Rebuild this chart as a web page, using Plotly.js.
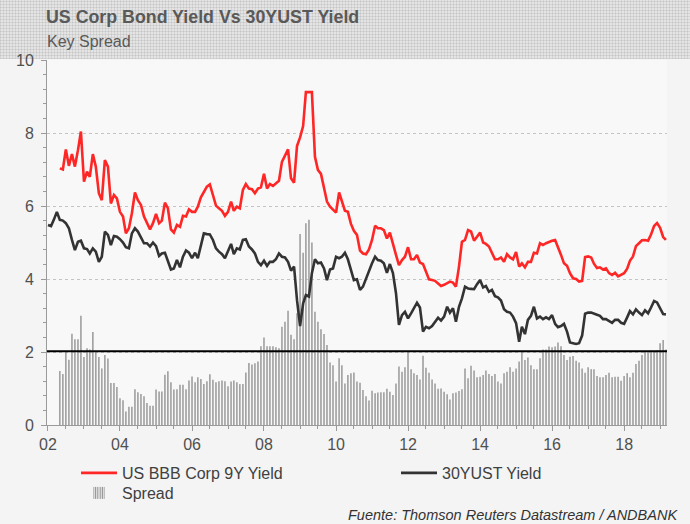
<!DOCTYPE html>
<html><head><meta charset="utf-8">
<script src="https://cdn.plot.ly/plotly-3.0.1.min.js"></script>
<style>
html,body{margin:0;padding:0;background:#f4f4f4;}
#wrap{position:relative;width:690px;height:524px;overflow:hidden;background:#f4f4f4;}
#band{position:absolute;left:0;top:0;width:690px;height:59px;background-color:#e4e4e4;
background-image:repeating-linear-gradient(0deg, rgba(0,0,0,0.07) 0 1px, transparent 1px 3px),repeating-linear-gradient(90deg, rgba(0,0,0,0.07) 0 1px, transparent 1px 3px);}
#chart{position:absolute;left:0;top:0;width:690px;height:524px;}
</style></head>
<body><div id="wrap"><div id="band"></div><div id="chart"></div></div>
<script>
// ---- data (monthly) ----
const ustStart = [2002, 1];   // 30YUST Yield starts Jan 2002
const bbbStart = [2002, 5];   // BBB yield and spread start May 2002
const ust30 = [
5.48,5.45,5.62,5.84,5.62,5.6,5.53,5.39,5.07,4.79,5.02,5.05,4.84,4.82,4.70,4.84,4.75,4.47,4.61,5.3,
5.21,4.93,5.18,5.16,5.09,5.0,4.87,4.84,5.25,5.39,5.3,5.16,4.98,4.98,4.89,5.0,
4.9,4.63,4.7,4.72,4.52,4.26,4.29,4.52,4.32,4.61,4.78,4.72,4.57,4.72,4.57,4.93,5.25,5.23,5.22,5.07,
4.84,4.75,4.68,4.57,4.79,4.96,4.68,4.84,4.81,5.07,5.09,4.89,4.81,4.7,4.47,
4.38,4.5,4.36,4.47,4.47,4.54,4.7,4.61,4.59,4.47,4.23,4.34,3.42,2.71,3.33,3.56,3.52,4.16,4.54,4.43,
4.45,4.29,3.97,4.26,4.29,4.61,4.57,4.61,4.72,4.54,4.25,3.97,3.99,3.7,3.79,
4.02,4.25,4.43,4.61,4.52,4.5,4.43,4.17,4.41,4.16,3.61,2.74,3.01,3.1,2.92,3.06,3.2,3.35,3.22,2.56,
2.69,2.65,2.71,2.83,2.94,2.86,2.97,3.24,3.08,3.2,2.83,3.24,3.47,3.79,3.74,
3.73,3.72,3.86,3.97,3.77,3.81,3.65,3.7,3.53,3.5,3.41,3.17,3.1,3.08,2.97,2.79,2.28,2.69,2.49,2.88,
2.99,3.24,2.92,2.97,2.9,2.95,2.9,3.01,2.77,2.68,2.71,2.77,2.56,2.26,2.24,
2.22,2.24,2.45,3.05,3.08,3.08,3.06,3.02,2.99,2.9,2.9,2.86,2.8,2.88,2.88,2.8,2.77,2.95,3.12,3.03,
3.17,3.08,3.01,3.14,3.06,3.22,3.4,3.36,3.2,3.04,3.03];
const bbb9y = [
7.03,7.0,7.55,7.1,7.42,7.08,7.53,8.04,6.67,6.94,6.8,7.42,7.08,6.35,6.16,7.26,7.08,6.07,6.3,6.21,
5.84,5.71,5.25,5.39,5.8,6.37,6.16,6.03,5.71,5.53,5.36,5.53,
5.78,5.53,5.6,6.09,5.94,5.36,5.27,5.48,5.43,5.73,5.71,5.91,5.84,5.84,5.98,6.24,6.37,6.53,6.59,6.26,
6.01,5.94,5.87,5.73,5.84,6.12,5.87,5.98,5.94,6.44,6.6,6.48,6.46,6.35,6.48,
6.51,6.88,6.48,6.6,6.55,6.62,6.69,7.21,7.4,7.55,6.76,6.64,7.64,7.88,8.19,9.12,9.12,9.12,7.35,6.99,
6.88,6.53,6.12,5.98,5.89,5.82,6.37,6.16,5.87,5.84,5.51,5.32,5.21,4.78,4.70,
4.68,4.81,5.07,5.46,5.39,5.39,5.34,5.11,5.27,4.93,4.66,4.38,4.52,4.61,4.87,4.54,4.54,4.66,4.45,4.41,
4.2,3.99,3.97,3.95,3.88,3.81,3.84,3.9,3.93,3.9,3.79,4.34,5.02,5.07,5.34,
5.3,5.05,5.16,5.27,5.0,4.96,4.89,4.7,4.54,4.54,4.59,4.47,4.68,4.59,4.54,4.74,4.34,4.43,4.32,4.47,
4.47,4.72,4.7,4.98,4.93,4.98,5.02,5.05,5.07,4.89,4.66,4.43,4.36,4.16,4.02,
4.0,3.93,3.95,4.6,4.62,4.59,4.42,4.3,4.32,4.26,4.29,4.16,4.11,4.17,4.07,4.12,4.16,4.28,4.5,4.62,
4.9,4.98,5.06,5.07,5.05,5.22,5.45,5.53,5.4,5.15,5.07];
const spread = [
1.48,1.40,2.03,1.79,2.5,2.35,2.35,2.99,1.86,2.1,2.07,2.55,2.0,1.86,1.55,1.92,1.82,1.15,1.15,1.04,
0.73,0.68,0.37,0.5,0.5,0.98,0.9,0.85,0.79,0.6,0.53,0.53,0.97,0.92,0.92,1.38,1.47,1.17,0.97,0.98,
1.1,1.1,0.98,1.22,1.33,1.17,1.31,1.26,1.12,1.2,1.39,1.24,1.17,1.2,1.22,1.2,1.06,1.19,1.22,1.17,
1.12,1.12,1.44,1.7,
1.66,1.69,1.74,2.16,2.4,2.16,2.16,2.16,2.13,2.1,2.69,2.83,3.13,2.47,2.35,3.06,5.23,4.72,5.53,5.62,
5.0,3.1,2.83,2.62,2.49,
2.19,1.71,1.64,1.19,1.83,1.64,1.14,1.37,1.42,1.44,1.19,1.16,0.96,0.79,0.67,0.94,0.87,0.89,0.9,0.9,
0.99,0.91,0.82,1.14,1.6,1.46,1.58,2.01,1.53,1.42,1.37,1.25,1.9,1.57,1.43,1.25,1.14,0.99,1.0,0.91,
0.84,0.7,0.87,0.89,0.93,0.98,1.55,1.28,1.62,1.49,1.31,1.32,1.37,1.49,1.4,1.34,1.4,1.19,1.14,1.42,
1.46,1.58,1.46,1.55,1.74,2.01,1.78,1.85,1.64,1.53,1.53,1.83,2.07,2.07,2.15,2.13,2.15,2.26,2.16,1.92,
1.78,1.87,1.89,1.76,1.71,1.55,1.43,1.58,1.53,1.53,1.34,1.31,1.31,1.37,1.43,1.31,1.32,1.32,1.21,1.34,
1.42,1.31,1.43,1.67,1.76,1.92,2.01,1.98,2.04,2.01,2.05,2.24,2.33,2.07];
const spreadRefLevel = 2.02;
const xTickLabelsEvery = 'M24';
const names = {bbb:'US BBB Corp 9Y Yield', ust:'30YUST Yield', spread:'Spread'};
const titleText = 'US Corp Bond Yield Vs 30YUST Yield';
const subtitleText = 'Key Spread';
const sourceText = 'Fuente: Thomson Reuters Datastream / ANDBANK';

function monthDates(start, n){
  const out=[]; let y=start[0], m=start[1];
  for(let i=0;i<n;i++){ out.push(y+'-'+String(m).padStart(2,'0')+'-01'); m++; if(m>12){m=1;y++;} }
  return out;
}
const xUst = monthDates(ustStart, ust30.length);
const xBbb = monthDates(bbbStart, bbb9y.length);
const xSpr = monthDates(bbbStart, spread.length);

const DAY = 86400000;
const traces = [
  {type:'bar', x:xSpr, y:spread, width:xSpr.map(()=>17*DAY), marker:{color:'#a3a3a3', line:{width:0}}, showlegend:false, hoverinfo:'skip'},
  {type:'scatter', mode:'lines', x:xBbb, y:bbb9y, name:names.bbb, line:{color:'#ff2626', width:2.6}, legend:'legend'},
  // legend-only entry for the spread bars (striped icon); carries no visible mark
  {type:'bar', x:[xSpr[0]], y:[null], name:names.spread, legend:'legend3', showlegend:true, hoverinfo:'skip',
   marker:{color:'#f4f4f4', line:{width:0}, pattern:{shape:'|', fgcolor:'#8f8f8f', bgcolor:'#f4f4f4', size:3, solidity:0.5}}},
  {type:'scatter', mode:'lines', x:xUst, y:ust30, name:names.ust, line:{color:'#333333', width:2.6}, legend:'legend2'}
];

const W=690,H=524,L=47,R=23,T=60,B=99;
const pw=W-L-R, ph=H-T-B;
const px2x = p => (p-L)/pw;
const py2y = p => (H-B-p)/ph;
const legendBase = {xanchor:'left', yanchor:'top', orientation:'v', bgcolor:'rgba(0,0,0,0)',
                    font:{size:16, color:'#404040'}, itemwidth:36};

const layout = {
  width:W, height:H, margin:{l:L,r:R,t:T,b:B,autoexpand:false},
  paper_bgcolor:'rgba(0,0,0,0)', plot_bgcolor:'#f8f8f8',
  font:{family:'"Liberation Sans", Arial, sans-serif', color:'#505050', size:16},
  barmode:'overlay', showlegend:true,
  title:{text:'<b>'+titleText+'</b>', xref:'container', yref:'container', x:46/W, xanchor:'left', y:1-17/H, yanchor:'middle',
         font:{size:17.8, color:'#595959'}},
  xaxis:{type:'date', range:['2001-12-22','2019-03-12'], tick0:'2002-01-01', dtick:xTickLabelsEvery, tickformat:'%y',
         ticks:'outside', ticklen:5, tickcolor:'#9a9a9a', showline:true, linecolor:'#9a9a9a', linewidth:1,
         showgrid:false, zeroline:false, tickfont:{size:16, color:'#505050'},
         minor:{dtick:'M6', ticks:'outside', ticklen:3, tickcolor:'#9a9a9a', showgrid:false}},
  yaxis:{range:[0,10], dtick:2, ticks:'outside', ticklen:5, tickcolor:'#9a9a9a', showline:true, linecolor:'#9a9a9a',
         linewidth:1, showgrid:true, gridcolor:'#c4c4c4', griddash:'dot', gridwidth:1, zeroline:false,
         ticklabelstandoff:4, tickfont:{size:16, color:'#505050'},
         minor:{dtick:0.4, ticks:'outside', ticklen:3, tickcolor:'#9a9a9a', showgrid:false}},
  shapes:[{type:'line', xref:'paper', x0:0, x1:1, yref:'y', y0:spreadRefLevel, y1:spreadRefLevel,
           line:{color:'#000000', width:2.2}, layer:'above'}],
  legend:Object.assign({}, legendBase, {x:px2x(76), y:py2y(456)}),
  legend2:Object.assign({}, legendBase, {x:px2x(396), y:py2y(456)}),
  legend3:Object.assign({}, legendBase, {x:px2x(76), y:py2y(476)}),
  annotations:[
    {text:subtitleText, xref:'paper', yref:'paper', x:px2x(45), y:py2y(42), xanchor:'left', yanchor:'middle',
     showarrow:false, font:{size:16, color:'#595959'}},
    {text:'<i>'+sourceText+'</i>', xref:'paper', yref:'paper', x:px2x(680), y:py2y(515), xanchor:'right', yanchor:'middle',
     showarrow:false, font:{size:14.5, color:'#333333'}}
  ]
};
Plotly.newPlot('chart', traces, layout, {staticPlot:true, displayModeBar:false});
</script></body></html>
